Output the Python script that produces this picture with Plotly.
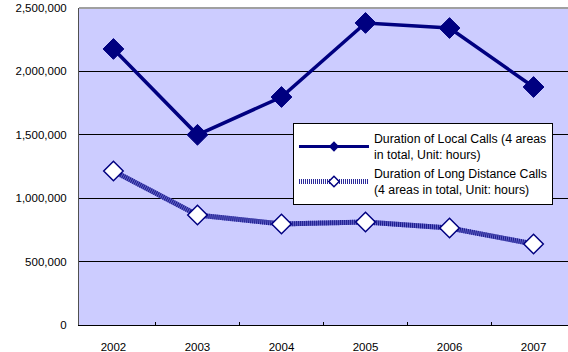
import plotly.graph_objects as go

years = ["2002", "2003", "2004", "2005", "2006", "2007"]
local_calls = [2177000, 1500000, 1798000, 2382000, 2342000, 1877000]
long_calls = [1214000, 867000, 797000, 812000, 765000, 639000]
local_name = "Duration of Local Calls (4 areas<br>in total, Unit: hours)"
long_name = "Duration of Long Distance Calls<br>(4 areas in total, Unit: hours)"
y_ticks = [0, 500000, 1000000, 1500000, 2000000, 2500000]
y_labels = ["0", "500,000", "1,000,000", "1,500,000", "2,000,000", "2,500,000"]

NAVY = "#000080"
fig = go.Figure()
fig.add_trace(go.Scatter(
    x=years, y=local_calls, mode="lines+markers", showlegend=False,
    line=dict(color=NAVY, width=3.5),
    marker=dict(symbol="diamond", size=16, color=NAVY, line=dict(color=NAVY, width=1)),
))
fig.add_trace(go.Scatter(
    x=years, y=long_calls, mode="lines", showlegend=False,
    line=dict(color="#6464c8", width=5),
))
fig.add_trace(go.Scatter(
    x=years, y=long_calls, mode="lines+markers", showlegend=False,
    line=dict(color="#1a1a8c", width=5, dash="1px,1px"),
    marker=dict(symbol="diamond", size=15, color="white", line=dict(color=NAVY, width=1.5)),
))
# legend entries (small markers as in the reference legend)
fig.add_trace(go.Scatter(
    x=[years[0]], y=[None], name=local_name, mode="lines+markers",
    line=dict(color=NAVY, width=3),
    marker=dict(symbol="diamond", size=8, color=NAVY),
))
fig.add_trace(go.Scatter(
    x=[years[0]], y=[None], name=long_name, mode="lines+markers",
    line=dict(color="#2a2a9a", width=5, dash="1px,1px"),
    marker=dict(symbol="diamond", size=8, color="white", line=dict(color=NAVY, width=1.5)),
))

fig.update_layout(
    width=568, height=352,
    margin=dict(l=79, r=0, t=8, b=27),
    paper_bgcolor="white",
    plot_bgcolor="#ccccff",
    font=dict(family="Liberation Sans, Arial, sans-serif", size=11.5, color="#000000"),
    showlegend=True,
    legend=dict(
        x=0.4376, y=0.637, xanchor="left", yanchor="top",
        bgcolor="white", bordercolor="#000000", borderwidth=1,
        font=dict(size=12.3, color="#000000"),
        itemwidth=70, tracegroupgap=2,
    ),
    xaxis=dict(
        type="category", showgrid=False, showline=True, linecolor="#000000",
        linewidth=1, ticks="inside", tickson="boundaries", ticklen=3,
        tickcolor="#000000", tickfont=dict(size=11.5), zeroline=False,
        ticklabelstandoff=11,
    ),
    yaxis=dict(
        range=[0, 2500000], tickvals=y_ticks, ticktext=y_labels,
        showgrid=True, gridcolor="#000000", gridwidth=1,
        showline=True, linecolor="#505050", linewidth=1,
        ticks="", tickfont=dict(size=11.5), zeroline=False,
        ticklabelstandoff=9,
    ),
    shapes=[dict(type="line", xref="paper", yref="paper", x0=0, x1=1, y0=1, y1=1,
                 line=dict(color="#a0a0a0", width=2), layer="above")],
)

fig.write_html("out.html")
